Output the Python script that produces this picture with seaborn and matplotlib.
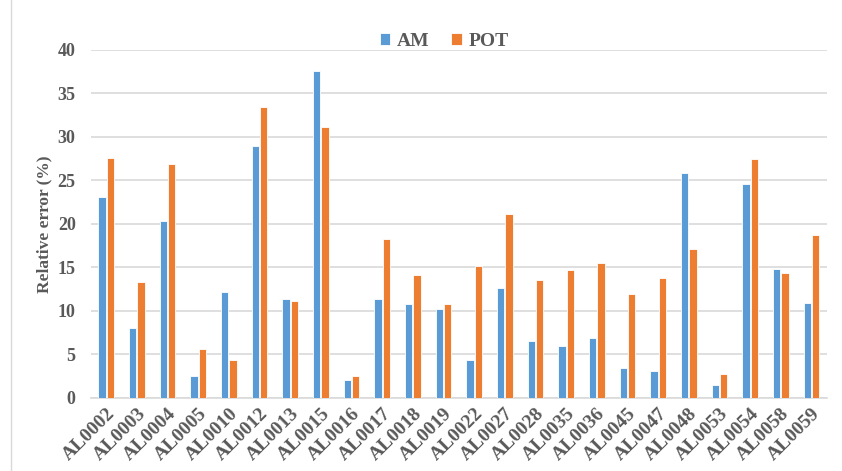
import matplotlib
matplotlib.use("Agg")
import matplotlib.pyplot as plt
import numpy as np
import pandas as pd
import seaborn as sns

# Data
stations = ["AL0002", "AL0003", "AL0004", "AL0005", "AL0010", "AL0012", "AL0013",
            "AL0015", "AL0016", "AL0017", "AL0018", "AL0019", "AL0022", "AL0027",
            "AL0028", "AL0035", "AL0036", "AL0045", "AL0047", "AL0048", "AL0053",
            "AL0054", "AL0058", "AL0059"]
am_err = [23.1, 8.1, 20.3, 2.5, 12.2, 29.0, 11.4, 37.6, 2.1, 11.4, 10.8, 10.2,
          4.4, 12.6, 6.5, 6.0, 6.9, 3.4, 3.1, 25.8, 1.5, 24.6, 14.8, 10.9]
pot_err = [27.6, 13.3, 26.9, 5.6, 4.4, 33.4, 11.1, 31.2, 2.5, 18.3, 14.1, 10.8,
           15.2, 21.1, 13.6, 14.7, 15.5, 12.0, 13.8, 17.1, 2.8, 27.5, 14.4, 18.7]

df = pd.DataFrame({"station": stations * 2,
                   "error": am_err + pot_err,
                   "method": ["AM"] * len(stations) + ["POT"] * len(stations)})

sns.set_theme(style="white")
plt.rcParams['font.family'] = ['Liberation Serif', 'DejaVu Serif']
text_col = "#595959"

fig = plt.figure(figsize=(8.42, 4.71), dpi=100)
ax = fig.add_axes([0.108, 0.155, 0.874, 0.739])

sns.barplot(data=df, x="station", y="error", hue="method",
            palette={"AM": "#5B9BD5", "POT": "#ED7D31"}, saturation=1,
            width=0.54, gap=0.12, edgecolor="white", linewidth=0.6,
            ax=ax, zorder=3)

ax.set_ylim(0, 40)
ax.set_xlim(-0.5, len(stations) - 0.5)
ax.set_yticks(np.arange(0, 41, 5))
ax.yaxis.grid(True, color="#D9D9D9", linewidth=1.2, zorder=0)
ax.set_axisbelow(True)
for s in ["top", "right", "left"]:
    ax.spines[s].set_visible(False)
ax.spines["bottom"].set_color("#D9D9D9")
ax.spines["bottom"].set_linewidth(1.2)
ax.tick_params(axis="both", length=0, colors=text_col, labelsize=13)
for lab in ax.get_yticklabels():
    lab.set_fontweight("bold")
ax.set_xticks(range(len(stations)))
ax.set_xticklabels(stations, rotation=45, ha="right", rotation_mode="anchor",
                   fontweight="bold", fontsize=14, color=text_col)
ax.tick_params(axis="y", pad=11)
ax.tick_params(axis="x", pad=5)

ax.set_xlabel("")
ax.set_ylabel("Relative error (%)", fontsize=12.5, fontweight="bold", color=text_col, labelpad=4)

leg = ax.legend(loc="center", bbox_to_anchor=(0.48, 1.025), ncol=2, frameon=False,
                handlelength=0.55, handleheight=0.55, columnspacing=1.1, handletextpad=0.35,
                prop={"weight": "bold", "size": 14})
for t in leg.get_texts():
    t.set_color(text_col)

fig.add_artist(plt.Line2D([0.013, 0.013], [0, 1], transform=fig.transFigure,
                          color="#D9D9D9", linewidth=1))

fig.savefig("out.png", dpi=100)
